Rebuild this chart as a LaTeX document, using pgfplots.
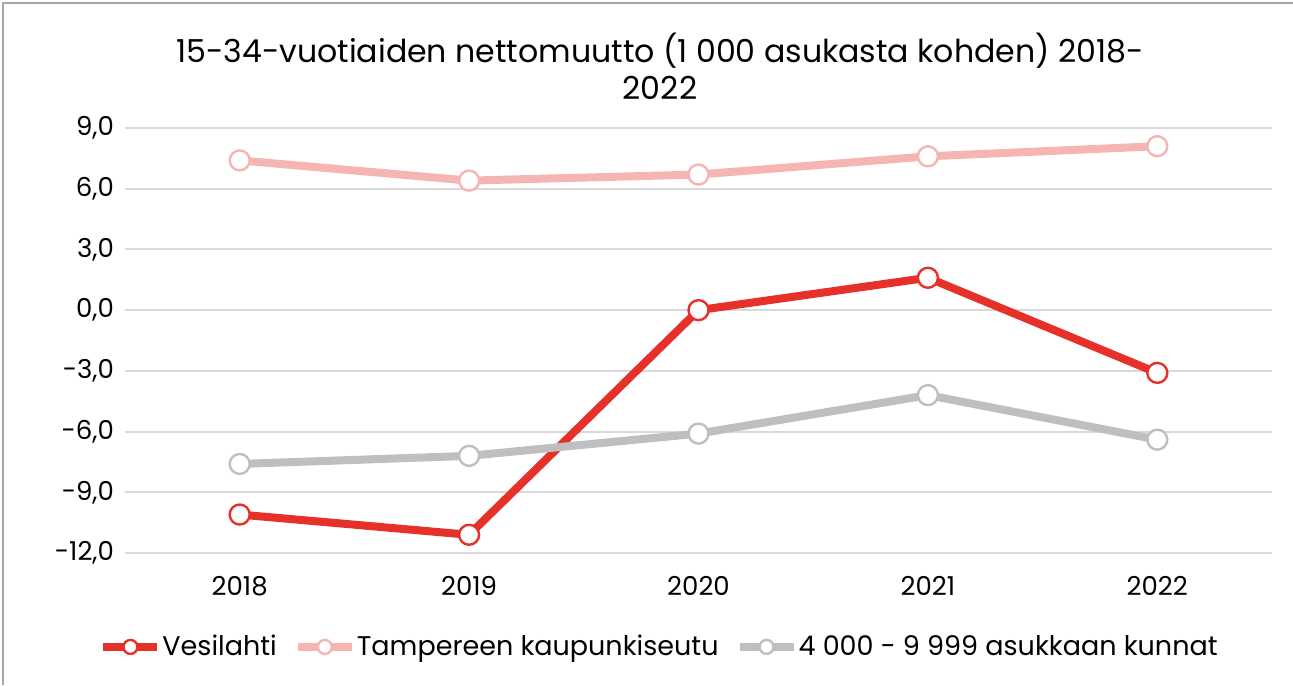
\documentclass[border=0pt]{standalone}
\usepackage{pgfplots}
\pgfplotsset{compat=1.18}
\usepackage{fontspec}
\setmainfont{Poppins}
\definecolor{cRed}{HTML}{E5312A}
\definecolor{cPink}{HTML}{F5B6B3}
\definecolor{cGray}{HTML}{BFBFBF}
\definecolor{cGrid}{HTML}{D9D9D9}
\definecolor{cBorder}{HTML}{A6A6A6}
\begin{document}
\begin{tikzpicture}[x=1pt,y=1pt]
\path[use as bounding box] (0,0) rectangle (646.5,342.5);
\draw[cBorder,line width=1pt] (1.5,0) -- (1.5,341) -- (646.5,341);
\node[align=center,font=\fontsize{15.8}{18.5}\selectfont] at (330,309.5) {15-34-vuotiaiden nettomuutto (1 000 asukasta kohden) 2018-\\2022};
\begin{axis}[
  at={(62.5pt,66pt)}, anchor=south west,
  scale only axis, width=573.5pt, height=212.5pt,
  xmin=-0.5, xmax=4.5, ymin=-12, ymax=9,
  xtick={0,1,2,3,4}, xticklabels={2018,2019,2020,2021,2022},
  ytick={-12,-9,-6,-3,0,3,6,9},
  yticklabels={{-12,0},{-9,0},{-6,0},{-3,0},{0,0},{3,0},{6,0},{9,0}},
  yticklabel style={xshift=-2pt},
  ticklabel style={font=\fontsize{13}{15}\selectfont},
  xticklabel style={yshift=-8pt},
  axis line style={draw=none},
  major tick length=0pt,
  ymajorgrids, grid style={cGrid,line width=1pt},
  legend style={draw=none, at={(0.4656,-0.221)}, anchor=center, legend columns=-1,
    font=\fontsize{13.5}{15}\selectfont, nodes={inner xsep=0.5pt},
    /tikz/every even column/.append style={column sep=8pt}},
  legend image code/.code={\draw[mark repeat=2,mark phase=2,#1,mark size=3.5pt] plot coordinates {(0pt,0pt)(13.5pt,0pt)(27pt,0pt)};},
  every axis plot/.append style={line width=4pt, mark=*, mark size=5pt, mark options={fill=white, line width=1.2pt}},
]
\addplot[cRed] coordinates {(0,-10.1) (1,-11.1) (2,0.0) (3,1.6) (4,-3.1)};
\addlegendentry{Vesilahti}
\addplot[cPink] coordinates {(0,7.4) (1,6.4) (2,6.7) (3,7.6) (4,8.1)};
\addlegendentry{Tampereen kaupunkiseutu}
\addplot[cGray] coordinates {(0,-7.6) (1,-7.2) (2,-6.1) (3,-4.2) (4,-6.4)};
\addlegendentry{4 000 - 9 999 asukkaan kunnat}
\end{axis}
\end{tikzpicture}
\end{document}
